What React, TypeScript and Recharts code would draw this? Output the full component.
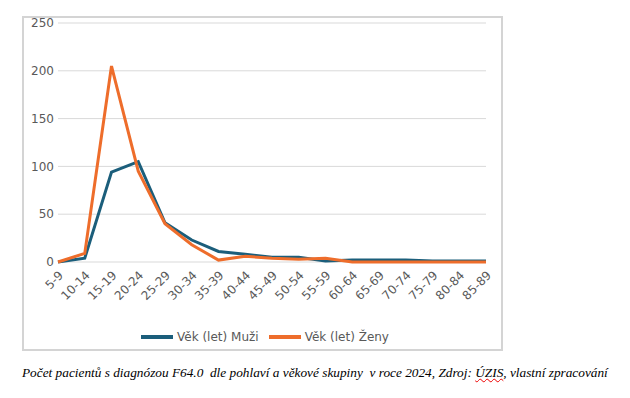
import React from "react";
import { LineChart, Line, XAxis, YAxis, CartesianGrid, Legend } from "recharts";

const ageGroups = ["5-9","10-14","15-19","20-24","25-29","30-34","35-39","40-44","45-49","50-54","55-59","60-64","65-69","70-74","75-79","80-84","85-89"];
const muzi = [0, 4, 94, 105, 41, 23, 11, 8, 5, 5, 1, 2, 2, 2, 1, 1, 1];
const zeny = [0, 9, 205, 95, 40, 18, 2, 6, 4, 3, 4, 0, 0, 0, 0, 0, 0];
const yTicks = [0, 50, 100, 150, 200, 250];

const data = ageGroups.map((g, i) => ({ g, m: muzi[i], z: zeny[i] }));

const FONT = "'DejaVu Sans', sans-serif";
const TXT = "#595959";

export default function App() {
  return (
    <div style={{ position: "absolute", left: 0, top: 0, width: 630, height: 398, background: "#fff" }}>
      <div style={{ position: "absolute", left: 22, top: 16, width: 477, height: 331, border: "2px solid #d4d4d4" }} />
      <div style={{ position: "absolute", left: 0, top: 0 }}>
        <LineChart width={630} height={398} data={data} margin={{ top: 23, right: 144, bottom: 76, left: 18 }}>
          <CartesianGrid horizontal vertical={false} stroke="#d9d9d9" strokeWidth={1} />
          <XAxis
            dataKey="g"
            scale="point"
            padding={{ left: 0, right: 0 }}
            height={60}
            axisLine={false}
            tickLine={false}
            tickSize={0}
            tickMargin={8}
            interval={0}
            angle={-45}
            textAnchor="end"
            tick={{ fill: TXT, fontSize: 12, fontFamily: FONT }}
          />
          <YAxis
            width={40}
            domain={[0, 250]}
            ticks={yTicks}
            axisLine={false}
            tickLine={false}
            tickSize={0}
            tickMargin={4}
            tick={{ fill: TXT, fontSize: 12, fontFamily: FONT }}
          />
          <Legend
            layout="horizontal"
            verticalAlign="middle"
            align="center"
            iconSize={32}
            wrapperStyle={{ top: 321, left: 30, width: 480, fontFamily: FONT, fontSize: 12 }}
            formatter={(v) => <span style={{ color: TXT }}>{v}</span>}
          />
          <Line type="linear" dataKey="m" name="Věk (let) Muži" stroke="#1b5e7b" strokeWidth={3} dot={false} legendType="plainline" isAnimationActive={false} />
          <Line type="linear" dataKey="z" name="Věk (let) Ženy" stroke="#ee6d2b" strokeWidth={3} dot={false} legendType="plainline" isAnimationActive={false} />
        </LineChart>
      </div>
      <div
        style={{
          position: "absolute",
          left: 22,
          top: 365,
          fontFamily: "'Liberation Serif', serif",
          fontStyle: "italic",
          fontSize: 13.3,
          color: "#000",
          whiteSpace: "pre",
        }}
      >
        {"Počet pacientů s diagnózou F64.0  dle pohlaví a věkové skupiny  v roce 2024, Zdroj: "}
        <span style={{ textDecoration: "underline wavy #e00", textDecorationThickness: 1 }}>ÚZIS</span>
        {", vlastní zpracování"}
      </div>
    </div>
  );
}
